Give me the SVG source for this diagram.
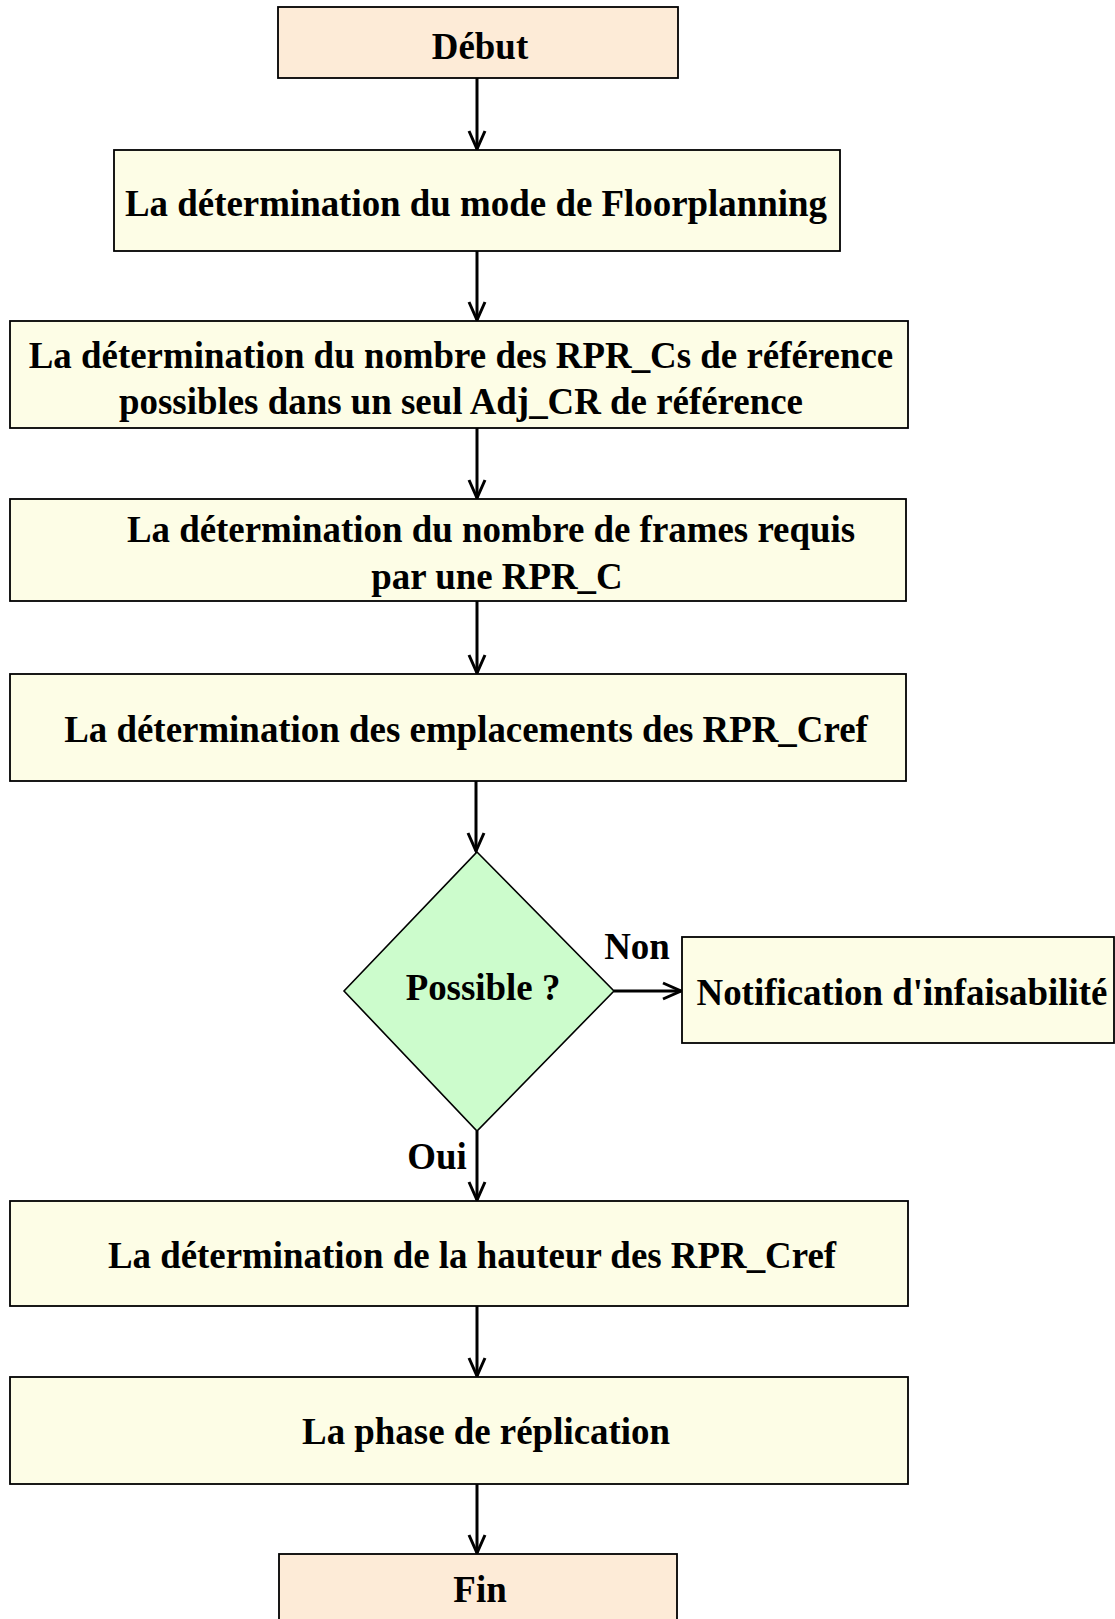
<svg xmlns="http://www.w3.org/2000/svg" width="1115" height="1619" viewBox="0 0 1115 1619">
<style>
.t{fill:#fdebd7;stroke:#000;stroke-width:1.8}
.p{fill:#fdfde6;stroke:#000;stroke-width:1.8}
.d{fill:#ccfccc;stroke:#000;stroke-width:1.6}
text{font-family:"Liberation Serif","Times New Roman",serif;font-weight:bold;font-size:36.9px;fill:#000;text-anchor:middle}
.c{fill:none;stroke:#000;stroke-width:3}
</style>
<defs>
<marker id="ah" viewBox="0 0 22 22" refX="20" refY="11" markerWidth="22" markerHeight="22" markerUnits="userSpaceOnUse" orient="auto">
<path d="M2,3 L20,11 L2,19" fill="none" stroke="#000" stroke-width="3"/>
</marker>
</defs>
<rect width="1115" height="1619" fill="#fff"/>
<g id="connectors">
<line class="c" x1="477" y1="78" x2="477" y2="149" marker-end="url(#ah)"/>
<line class="c" x1="477" y1="251" x2="477" y2="320" marker-end="url(#ah)"/>
<line class="c" x1="477" y1="428" x2="477" y2="498" marker-end="url(#ah)"/>
<line class="c" x1="477" y1="601" x2="477" y2="673" marker-end="url(#ah)"/>
<line class="c" x1="476" y1="781" x2="476" y2="851" marker-end="url(#ah)"/>
<line class="c" x1="614" y1="991" x2="681" y2="991" marker-end="url(#ah)"/>
<line class="c" x1="477" y1="1131" x2="477" y2="1200" marker-end="url(#ah)"/>
<line class="c" x1="477" y1="1306" x2="477" y2="1376" marker-end="url(#ah)"/>
<line class="c" x1="477" y1="1484" x2="477" y2="1553" marker-end="url(#ah)"/>
<text x="637" y="959">Non</text>
<text x="437" y="1169">Oui</text>
</g>
<g id="debut"><rect class="t" x="278" y="7" width="400" height="71"/><text x="480" y="59">Début</text></g>
<g id="mode"><rect class="p" x="114" y="150" width="726" height="101"/><text x="476" y="216">La détermination du mode de Floorplanning</text></g>
<g id="nombre-rpr"><rect class="p" x="10" y="321" width="898" height="107"/><text x="461" y="368">La détermination du nombre des RPR_Cs de référence</text><text x="461" y="414">possibles dans un seul Adj_CR de référence</text></g>
<g id="frames"><rect class="p" x="10" y="499" width="896" height="102"/><text x="491" y="542">La détermination du nombre de frames requis</text><text x="497" y="589">par une RPR_C</text></g>
<g id="emplacements"><rect class="p" x="10" y="674" width="896" height="107"/><text x="466" y="742">La détermination des emplacements des RPR_Cref</text></g>
<g id="possible"><polygon class="d" points="477,852 614,991 477,1131 344,991"/><text x="483" y="1000">Possible ?</text></g>
<g id="notification"><rect class="p" x="682" y="937" width="432" height="106"/><text x="902" y="1005">Notification d'infaisabilité</text></g>
<g id="hauteur"><rect class="p" x="10" y="1201" width="898" height="105"/><text x="472" y="1268">La détermination de la hauteur des RPR_Cref</text></g>
<g id="replication"><rect class="p" x="10" y="1377" width="898" height="107"/><text x="486" y="1444">La phase de réplication</text></g>
<g id="fin"><rect class="t" x="279" y="1554" width="398" height="90"/><text x="480" y="1602">Fin</text></g>
</svg>
